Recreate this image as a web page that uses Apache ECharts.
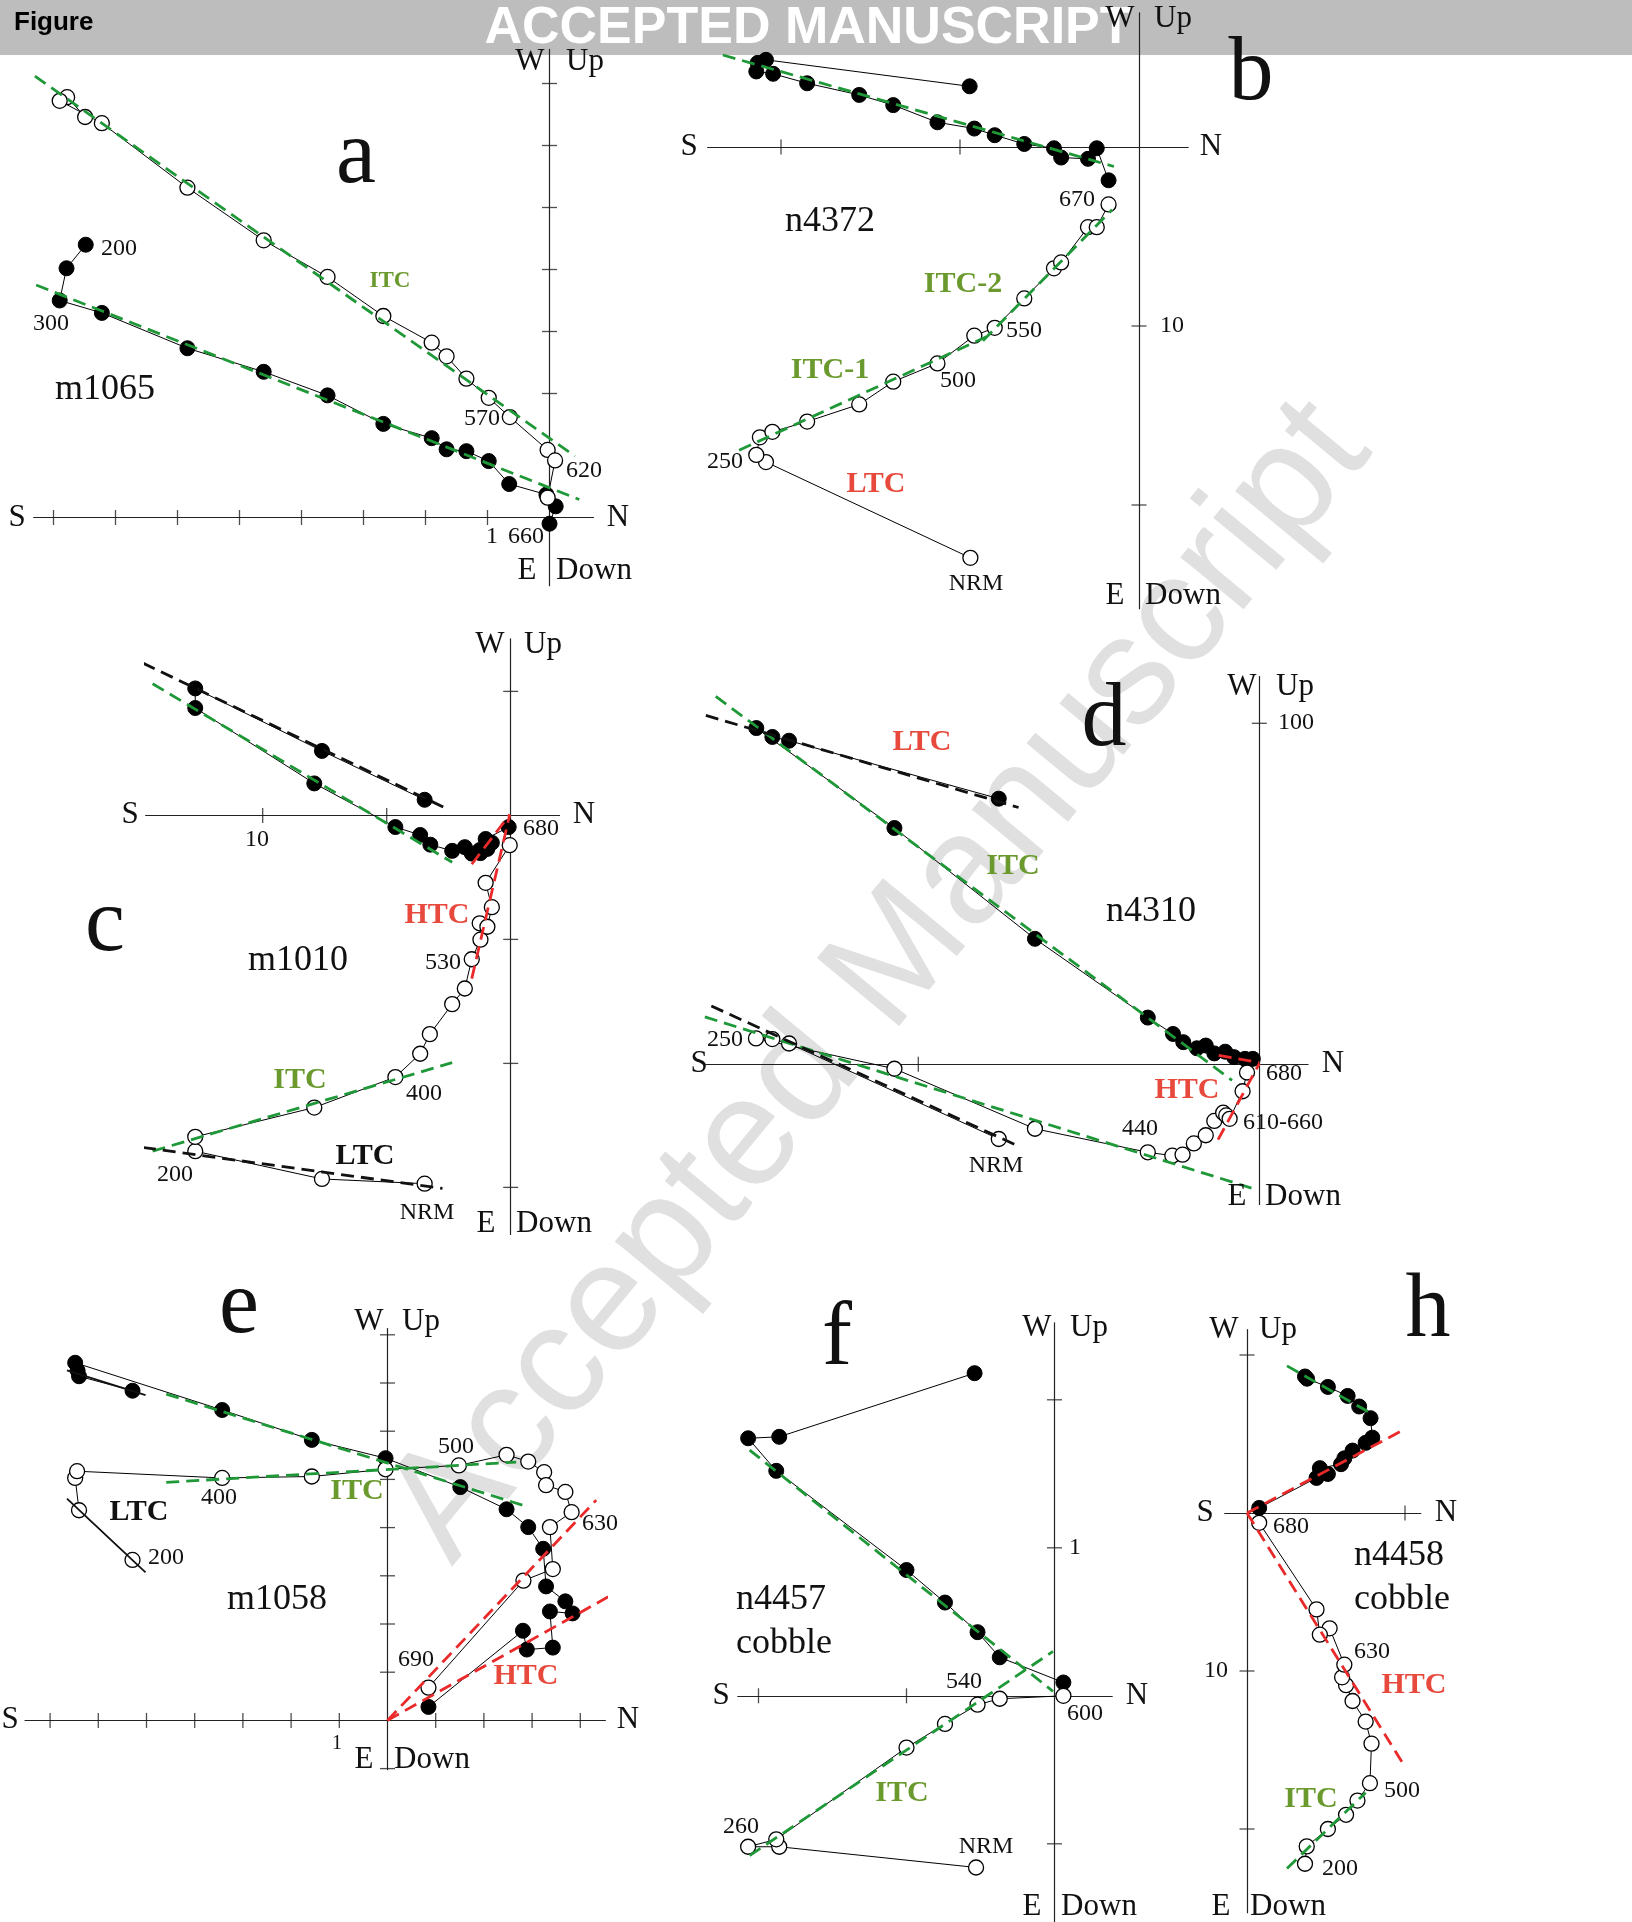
<!DOCTYPE html>
<html>
<head>
<meta charset="utf-8">
<script src="https://cdn.jsdelivr.net/npm/echarts@6/dist/echarts.min.js"></script>
<style>
  html, body { margin: 0; padding: 0; background: #ffffff; }
  #chart { width: 1632px; height: 1922px; }
</style>
</head>
<body>
<div id="chart"></div>
<script>
// Orthogonal (Zijderveld) demagnetization diagrams.
// Filled symbols: horizontal-plane projection (N vs E); open symbols: vertical-plane projection (N vs Up).
// Values are in the units of each panel's labelled tick.

// ---- a: m1065 ----
const A_HORIZ = [[-7.48,4.40],[-7.79,4.02],[-7.90,3.50],[-7.22,3.30],[-5.84,2.73],[-4.61,2.35],[-3.58,1.97],[-2.68,1.51],[-1.90,1.28],[-1.66,1.10],[-1.34,1.07],[-0.98,0.91],[-0.65,0.54],[-0.05,0.37],[0.10,0.18],[0.00,-0.10]];
const A_VERT = [[-7.49,6.46],[-7.78,6.78],[-7.90,6.72],[-7.22,6.36],[-5.84,5.32],[-4.61,4.47],[-3.58,3.88],[-2.68,3.25],[-1.90,2.82],[-1.66,2.60],[-1.34,2.24],[-0.98,1.93],[-0.64,1.62],[-0.03,1.09],[0.09,0.92],[-0.03,0.32]];
const A_FITS = [['ITC', [[-8.28,3.75],[0.48,0.29]]], ['ITC', [[-8.30,7.12],[0.41,0.99]]]];
const A_XTICKS = [-8,-7,-6,-5,-4,-3,-2,-1];
const A_YTICKS = [1,2,3,4,5,6,7];

// ---- b: n4372 ----
const B_HORIZ = [[-9.46,3.39],[-20.84,4.87],[-21.30,4.70],[-21.38,4.22],[-20.44,4.09],[-18.54,3.56],[-15.63,2.91],[-13.73,2.34],[-11.26,1.38],[-9.20,1.03],[-8.06,0.66],[-6.41,0.17],[-4.75,-0.07],[-4.35,-0.59],[-2.85,-0.66],[-2.36,-0.07],[-1.70,-1.86]];
const B_VERT = [[-9.42,-22.95],[-20.84,-17.60],[-21.38,-17.20],[-21.18,-16.22],[-20.48,-15.91],[-18.54,-15.34],[-15.63,-14.38],[-13.73,-13.11],[-11.26,-12.09],[-9.20,-10.54],[-8.06,-10.10],[-6.41,-8.46],[-4.75,-6.78],[-4.35,-6.45],[-2.85,-4.48],[-2.36,-4.48],[-1.70,-3.21]];
const B_FITS = [['ITC', [[-23.25,5.14],[-1.40,-1.09]]], ['ITC', [[-22.34,-16.94],[-8.52,-10.60]]], ['ITC', [[-8.72,-10.82],[-1.50,-3.50]]]];
const B_XTICKS = [-20,-10];
const B_YTICKS = [-10,-20];

// ---- c: m1010 ----
const C_HORIZ = [[-3.47,0.63],[-7.61,2.60],[-12.72,5.12],[-12.72,4.33],[-7.92,1.29],[-4.65,-0.47],[-3.65,-0.79],[-3.24,-1.18],[-2.36,-1.43],[-1.85,-1.28],[-1.57,-1.54],[-1.22,-1.52],[-1.25,-1.40],[-0.94,-1.35],[-0.76,-1.10],[-1.01,-0.95],[-0.08,-0.47]];
const C_VERT = [[-3.47,-14.85],[-7.61,-14.66],[-12.72,-13.54],[-12.72,-12.96],[-7.92,-11.78],[-4.65,-10.55],[-3.65,-9.61],[-3.26,-8.82],[-2.36,-7.61],[-1.85,-6.98],[-1.57,-5.80],[-1.22,-5.01],[-1.25,-4.35],[-0.94,-4.49],[-0.76,-3.70],[-1.01,-2.72],[-0.04,-1.20]];
const C_FITS = [['LTC', [[-14.83,6.14],[-2.64,0.30]]], ['ITC', [[-14.44,5.31],[-2.36,-1.89]]], ['HTC', [[-1.57,-1.97],[-0.04,0.03]]],
                ['HTC', [[-1.57,-6.58],[-0.04,0.03]]], ['ITC', [[-14.44,-13.54],[-2.36,-9.97]]], ['LTC', [[-14.83,-13.39],[-2.75,-15.04]]]];
const C_XTICKS = [-10,-5];
const C_YTICKS = [5,-5,-10,-15];

// ---- d: n4310 ----
const D_HORIZ = [[-76.4,77.9],[-137.9,94.9],[-142.8,96.0],[-147.5,98.6],[-107.0,69.3],[-65.8,36.8],[-32.7,13.7],[-25.3,8.9],[-22.3,6.5],[-18.3,4.7],[-15.7,5.5],[-13.2,3.2],[-10.0,3.7],[-7.4,2.1],[-4.2,1.6],[-1.9,1.6]];
const D_VERT = [[-76.4,-21.9],[-137.9,6.1],[-142.8,7.4],[-147.6,7.6],[-107.0,-1.3],[-65.8,-18.9],[-32.7,-25.8],[-25.5,-26.8],[-22.5,-26.5],[-19.2,-23.2],[-15.7,-20.8],[-13.2,-16.6],[-10.6,-14.2],[-9.7,-15.0],[-8.7,-16.0],[-4.9,-7.9],[-3.6,-2.4]];
const D_FITS = [['ITC', [[-159.4,107.9],[-8.0,-4.7]]], ['LTC', [[-162.3,102.3],[-70.6,75.3]]], ['HTC', [[-11.9,2.6],[0,0.5]]],
                ['ITC', [[-162.6,13.9],[-2.3,-36.3]]], ['LTC', [[-160.7,17.1],[-70.6,-24.0]]], ['HTC', [[-12.1,-22.1],[0,0.2]]]];
const D_XTICKS = [-100];
const D_YTICKS = [100];

// ---- e: m1058 ----
const E_HORIZ = [[-5.29,6.84],[-6.40,7.14],[-6.43,7.26],[-6.48,7.42],[-3.43,6.44],[-1.57,5.82],[-0.04,5.44],[1.51,4.84],[2.47,4.38],[2.92,4.01],[3.23,3.56],[3.29,2.78],[3.69,2.47],[3.84,2.22],[3.37,2.26],[3.43,1.51],[2.89,1.47],[2.81,1.86],[0.85,0.28]];
const E_VERT = [[-5.29,3.33],[-6.40,4.36],[-6.48,5.03],[-6.44,5.17],[-3.43,5.03],[-1.57,5.06],[-0.04,5.21],[1.48,5.29],[2.47,5.51],[2.92,5.37],[3.25,5.15],[3.29,4.88],[3.69,4.74],[3.82,4.32],[3.37,4.01],[3.43,3.14],[2.82,2.90],[0.85,0.68]];
const E_FITS = [['ITC', [[-4.59,6.77],[2.82,4.46]]], ['LTC', [[-6.65,7.26],[-5.02,6.75]]], ['HTC', [[0,0],[4.77,2.67]]],
                ['ITC', [[-4.59,4.94],[2.67,5.36]]], ['LTC', [[-6.65,4.60],[-5.02,3.07]]], ['HTC', [[0,0],[4.33,4.57]]]];
const E_XTICKS = [-7,-6,-5,-4,-3,-2,-1,1,2,3,4];
const E_YTICKS = [1,2,3,4,5,6,7,8,-1];

// ---- f: n4457 cobble ----
const F_HORIZ = [[-0.54,2.18],[-1.86,1.75],[-2.07,1.74],[-1.88,1.52],[-1.00,0.85],[-0.74,0.63],[-0.52,0.43],[-0.37,0.26],[0.06,0.09]];
const F_VERT = [[-0.53,-1.16],[-1.86,-1.02],[-2.07,-1.02],[-1.88,-0.97],[-1.00,-0.35],[-0.74,-0.19],[-0.52,-0.06],[-0.37,-0.02],[0.06,0.00]];
const F_FITS = [['ITC', [[-2.06,1.66],[-0.01,0.03]]], ['ITC', [[-2.06,-1.08],[-0.01,0.30]]]];
const F_XTICKS = [-2,-1];
const F_YTICKS = [2,1,-1];

// ---- h: n4458 cobble ----
const H_HORIZ = [[3.67,8.64],[3.80,8.50],[5.12,7.98],[6.37,7.41],[7.10,6.74],[7.82,6.00],[7.93,4.77],[7.51,4.44],[6.68,3.95],[6.16,3.46],[5.95,3.09],[4.61,2.84],[5.12,2.47],[4.40,2.22],[0.77,0.32]];
const H_VERT = [[3.67,-22.2],[3.78,-21.1],[5.12,-20.0],[6.27,-19.1],[6.99,-18.2],[7.78,-17.1],[7.88,-14.6],[7.51,-13.2],[6.68,-11.9],[6.27,-10.9],[6.02,-10.4],[6.16,-9.6],[5.23,-7.3],[4.61,-7.7],[4.40,-6.1],[0.77,-0.62]];
const H_FITS = [['ITC', [[2.53,9.31],[7.78,6.35]]], ['HTC', [[0,0],[9.90,5.26]]], ['HTC', [[0,0],[9.90,-15.9]]], ['ITC', [[2.53,-22.5],[7.51,-17.7]]]];
const H_XTICKS = [10];
const H_YTICKS = [10,-10,-20];

// ---------------- styling ----------------
const SERIF = '"Liberation Serif", "DejaVu Serif", serif';
const SANS = '"Liberation Sans", Arial, sans-serif';
const FIT_COLOR = { ITC: '#1f9838', LTC: '#111111', HTC: '#ea2a2a' };
const DASH = [13, 7];
const GREEN_TXT = '#6a9a2e';
const RED_TXT = '#e8493d';

// layout of every diagram: origin in page pixels, pixels per unit, axis extents (units)
const PANELS = [
  { ox: 549.5, oy: 517.5, k: 62.0, xr: [-8.32, 0.71], yr: [-1.1, 7.55], horiz: A_HORIZ, vert: A_VERT, fits: A_FITS, xt: A_XTICKS, yt: A_YTICKS },
  { ox: 1139, oy: 147, k: 17.9, xr: [-24.1, 2.75], yr: [-25.8, 7.5], horiz: B_HORIZ, vert: B_VERT, fits: B_FITS, xt: B_XTICKS, yt: B_YTICKS },
  { ox: 510.7, oy: 815.4, k: 24.8, xr: [-14.72, 1.97], yr: [-16.9, 7.12], horiz: C_HORIZ, vert: C_VERT, fits: C_FITS, xt: C_XTICKS, yt: C_YTICKS },
  { ox: 1259.3, oy: 1064.3, k: 3.41, xr: [-162.3, 14.3], yr: [-41.1, 113.7], horiz: D_HORIZ, vert: D_VERT, fits: D_FITS, xt: D_XTICKS, yt: D_YTICKS },
  { ox: 387.5, oy: 1720.4, k: 48.2, xr: [-7.52, 4.52], yr: [-1.02, 8.13], horiz: E_HORIZ, vert: E_VERT, fits: E_FITS, xt: E_XTICKS, yt: E_YTICKS, solidLTC: true },
  { ox: 1054.5, oy: 1695.8, k: 148, xr: [-2.14, 0.39], yr: [-1.53, 2.52], horiz: F_HORIZ, vert: F_VERT, fits: F_FITS, xt: F_XTICKS, yt: F_YTICKS },
  { ox: 1247, oy: 1513, k: 15.8, xr: [-1.41, 11.0], yr: [-25.3, 11.6], horiz: H_HORIZ, vert: H_VERT, fits: H_FITS, xt: H_XTICKS, yt: H_YTICKS }
];

const grid = [], xAxis = [], yAxis = [], series = [];
PANELS.forEach((p, i) => {
  grid.push({
    left: p.ox + p.xr[0] * p.k,
    top: p.oy - p.yr[1] * p.k,
    width: (p.xr[1] - p.xr[0]) * p.k,
    height: (p.yr[1] - p.yr[0]) * p.k,
    containLabel: false,
    outerBoundsMode: 'none'
  });
  const axisCommon = {
    gridIndex: i, type: 'value', z: 1,
    axisLine: { show: true, onZero: true, lineStyle: { color: '#222', width: 1.2 } },
    axisTick: { show: false }, axisLabel: { show: false }, splitLine: { show: false }
  };
  xAxis.push(Object.assign({ min: p.xr[0], max: p.xr[1] }, axisCommon));
  yAxis.push(Object.assign({ min: p.yr[0], max: p.yr[1] }, axisCommon));

  // cross-shaped ticks on both axes
  series.push({ type: 'scatter', xAxisIndex: i, yAxisIndex: i, silent: true, z: 1,
    data: p.xt.map(v => [v, 0]), symbol: 'rect', symbolSize: [1.3, 15], itemStyle: { color: '#222' } });
  series.push({ type: 'scatter', xAxisIndex: i, yAxisIndex: i, silent: true, z: 1,
    data: p.yt.map(v => [0, v]), symbol: 'rect', symbolSize: [15, 1.3], itemStyle: { color: '#222' } });

  // demagnetization paths
  series.push({ type: 'line', xAxisIndex: i, yAxisIndex: i, data: p.horiz, clip: false, silent: true, z: 3,
    symbol: 'circle', symbolSize: 15, showSymbol: true, showAllSymbol: true,
    lineStyle: { color: '#000', width: 1 }, itemStyle: { color: '#000', borderColor: '#000', borderWidth: 1 } });
  series.push({ type: 'line', xAxisIndex: i, yAxisIndex: i, data: p.vert, clip: false, silent: true, z: 3,
    symbol: 'circle', symbolSize: 15, showSymbol: true, showAllSymbol: true,
    lineStyle: { color: '#000', width: 1 }, itemStyle: { color: '#fff', borderColor: '#000', borderWidth: 1.3 } });

  // principal-component fits
  p.fits.forEach(([comp, pts]) => {
    const solid = comp === 'LTC' && p.solidLTC;
    series.push({ type: 'line', xAxisIndex: i, yAxisIndex: i, data: pts, clip: false, silent: true, z: 4,
      symbol: 'none', lineStyle: { color: FIT_COLOR[comp], width: solid ? 1.8 : 2.8, type: solid ? 'solid' : DASH } });
  });
});

// ---------------- text ----------------
function txt(s, x, y, size, o) {
  o = o || {};
  const align = o.align || 'center';
  return { type: 'text', x: x, y: y, z: (o.z !== undefined ? o.z : 50), silent: true,
    style: { text: s, font: (o.bold ? 'bold ' : '') + size + 'px ' + (o.family || SERIF), fill: o.color || '#111',
      textAlign: align, textVerticalAlign: 'middle', align: align, verticalAlign: 'middle' } };
}
const AX = 31, NUM = 24, NAME = 36, BIG = 90, COMP = 30;
const texts = [
  // a
  txt('a', 356, 158, BIG), txt('W', 530, 62, AX), txt('Up', 585, 62, AX),
  txt('S', 17, 518, AX), txt('N', 618, 518, AX), txt('E', 527, 571, AX), txt('Down', 594, 571, AX),
  txt('m1065', 105, 390, NAME), txt('ITC', 390, 281, 23, { bold: true, color: GREEN_TXT }),
  txt('200', 119, 249, NUM), txt('300', 51, 324, NUM), txt('570', 482, 419, NUM), txt('620', 584, 471, NUM),
  txt('1', 492, 537, NUM), txt('660', 526, 537, NUM),
  // b
  txt('b', 1251, 75, BIG), txt('W', 1120, 19, AX), txt('Up', 1173, 19, AX),
  txt('S', 689, 147, AX), txt('N', 1211, 147, AX), txt('E', 1115, 596, AX), txt('Down', 1183, 596, AX),
  txt('n4372', 830, 222, NAME), txt('670', 1077, 200, NUM), txt('550', 1024, 331, NUM), txt('500', 958, 381, NUM),
  txt('250', 725, 462, NUM), txt('NRM', 976, 584, NUM), txt('10', 1172, 326, NUM),
  txt('ITC-2', 963, 284, COMP, { bold: true, color: GREEN_TXT }), txt('ITC-1', 830, 370, COMP, { bold: true, color: GREEN_TXT }),
  txt('LTC', 876, 484, COMP, { bold: true, color: RED_TXT }),
  // c
  txt('W', 490, 645, AX), txt('Up', 543, 645, AX), txt('S', 130, 815, AX), txt('N', 584, 815, AX),
  txt('E', 486, 1224, AX), txt('Down', 554, 1224, AX),
  txt('10', 257, 840, NUM), txt('680', 541, 829, NUM), txt('c', 105, 926, BIG),
  txt('HTC', 437, 915, COMP, { bold: true, color: RED_TXT }), txt('m1010', 298, 961, NAME), txt('530', 443, 963, NUM),
  txt('ITC', 300, 1080, COMP, { bold: true, color: GREEN_TXT }), txt('400', 424, 1094, NUM),
  txt('LTC', 365, 1156, COMP, { bold: true, color: '#111' }), txt('200', 175, 1175, NUM), txt('NRM', 427, 1213, NUM),
  // d
  txt('W', 1242, 687, AX), txt('Up', 1295, 687, AX), txt('100', 1296, 723, NUM), txt('d', 1104, 721, BIG),
  txt('LTC', 922, 742, COMP, { bold: true, color: RED_TXT }), txt('ITC', 1013, 866, COMP, { bold: true, color: GREEN_TXT }),
  txt('n4310', 1151, 912, NAME), txt('250', 725, 1040, NUM), txt('S', 699, 1064, AX), txt('N', 1333, 1064, AX),
  txt('680', 1284, 1074, NUM), txt('HTC', 1187, 1090, COMP, { bold: true, color: RED_TXT }),
  txt('610-660', 1283, 1123, NUM), txt('440', 1140, 1129, NUM), txt('NRM', 996, 1166, NUM),
  txt('E', 1237, 1197, AX), txt('Down', 1303, 1197, AX),
  // e
  txt('e', 239, 1308, BIG), txt('W', 369, 1322, AX), txt('Up', 421, 1322, AX),
  txt('500', 456, 1447, NUM), txt('400', 219, 1498, NUM), txt('ITC', 357, 1491, COMP, { bold: true, color: GREEN_TXT }),
  txt('LTC', 139, 1512, COMP, { bold: true, color: '#111' }), txt('630', 600, 1524, NUM), txt('200', 166, 1558, NUM),
  txt('m1058', 277, 1600, NAME), txt('690', 416, 1660, NUM), txt('HTC', 526, 1676, COMP, { bold: true, color: RED_TXT }),
  txt('S', 10, 1720, AX), txt('N', 628, 1720, AX), txt('1', 337, 1744, 20), txt('E', 364, 1760, AX), txt('Down', 432, 1760, AX),
  // f
  txt('f', 837, 1340, BIG), txt('W', 1037, 1328, AX), txt('Up', 1089, 1328, AX), txt('1', 1075, 1548, NUM),
  txt('n4457', 736, 1600, NAME, { align: 'left' }), txt('cobble', 736, 1644, NAME, { align: 'left' }),
  txt('S', 721, 1696, AX), txt('540', 964, 1682, NUM), txt('N', 1137, 1696, AX), txt('600', 1085, 1714, NUM),
  txt('ITC', 902, 1793, COMP, { bold: true, color: GREEN_TXT }), txt('260', 741, 1827, NUM), txt('NRM', 986, 1847, NUM),
  txt('E', 1032, 1907, AX), txt('Down', 1099, 1907, AX),
  // h
  txt('h', 1428, 1312, BIG), txt('W', 1224, 1330, AX), txt('Up', 1278, 1330, AX),
  txt('S', 1205, 1513, AX), txt('N', 1446, 1513, AX), txt('680', 1291, 1527, NUM),
  txt('n4458', 1354, 1556, NAME, { align: 'left' }), txt('cobble', 1354, 1600, NAME, { align: 'left' }),
  txt('630', 1372, 1652, NUM), txt('10', 1216, 1671, NUM), txt('HTC', 1414, 1685, COMP, { bold: true, color: RED_TXT }),
  txt('ITC', 1311, 1799, COMP, { bold: true, color: GREEN_TXT }), txt('500', 1402, 1791, NUM), txt('200', 1340, 1869, NUM),
  txt('E', 1221, 1907, AX), txt('Down', 1288, 1907, AX)
];

const graphic = [
  // journal banner
  { type: 'rect', shape: { x: 0, y: 0, width: 1632, height: 55 }, style: { fill: '#bdbdbd' }, z: -1, silent: true },
  txt('Figure', 14, 23, 26, { bold: true, family: SANS, align: 'left', color: '#000', z: 0 }),
  txt('ACCEPTED MANUSCRIPT', 808, 29, 52, { bold: true, family: SANS, color: '#ffffff', z: 0 }),
  // diagonal watermark
  { type: 'text', x: 880, y: 982, rotation: 0.88, z: -3, silent: true,
    style: { text: 'Accepted Manuscript', font: '155px ' + SANS, fill: '#e0e0e0',
      textAlign: 'center', textVerticalAlign: 'middle', align: 'center', verticalAlign: 'middle' } }
].concat(texts);

const chart = echarts.init(document.getElementById('chart'), null, { renderer: 'canvas' });
chart.setOption({
  animation: false,
  backgroundColor: '#ffffff',
  grid: grid, xAxis: xAxis, yAxis: yAxis, series: series,
  graphic: graphic
});
</script>
</body>
</html>
